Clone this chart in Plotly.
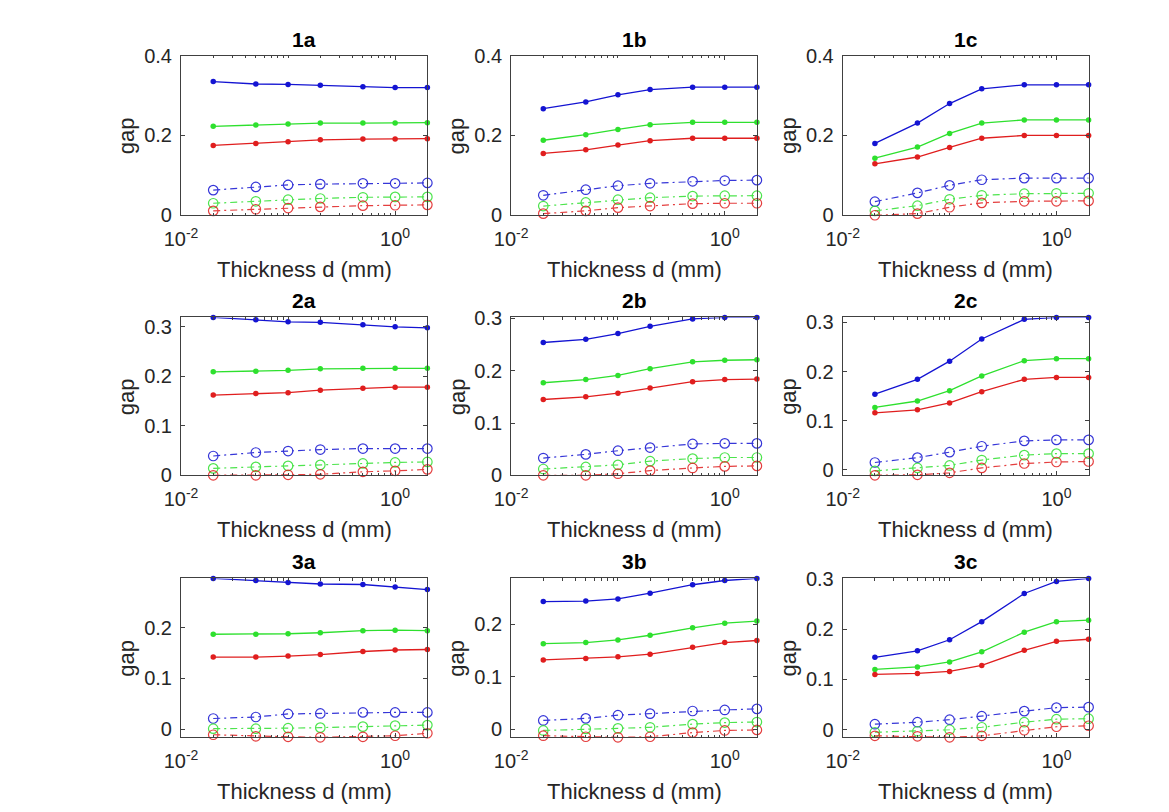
import plotly.graph_objects as go

thickness = [0.02, 0.05, 0.1, 0.2, 0.5, 1.0, 2.0]
panels = ["1a", "1b", "1c", "2a", "2b", "2c", "3a", "3b", "3c"]

blue_solid = {
    "1a": [0.335, 0.329, 0.328, 0.326, 0.322, 0.320, 0.320],
    "1b": [0.267, 0.284, 0.302, 0.315, 0.321, 0.321, 0.321],
    "1c": [0.180, 0.231, 0.280, 0.317, 0.327, 0.327, 0.327],
    "2a": [0.319, 0.314, 0.310, 0.309, 0.304, 0.300, 0.298],
    "2b": [0.254, 0.260, 0.271, 0.285, 0.299, 0.302, 0.302],
    "2c": [0.154, 0.184, 0.221, 0.266, 0.306, 0.310, 0.310],
    "3a": [0.297, 0.293, 0.289, 0.286, 0.285, 0.280, 0.275],
    "3b": [0.243, 0.244, 0.248, 0.259, 0.275, 0.283, 0.287],
    "3c": [0.144, 0.157, 0.179, 0.215, 0.271, 0.295, 0.301],
}
green_solid = {
    "1a": [0.223, 0.226, 0.229, 0.231, 0.231, 0.231, 0.232],
    "1b": [0.188, 0.202, 0.215, 0.227, 0.233, 0.233, 0.233],
    "1c": [0.143, 0.171, 0.205, 0.231, 0.239, 0.239, 0.239],
    "2a": [0.209, 0.210, 0.212, 0.215, 0.216, 0.216, 0.216],
    "2b": [0.177, 0.183, 0.191, 0.204, 0.217, 0.220, 0.221],
    "2c": [0.127, 0.140, 0.161, 0.191, 0.222, 0.226, 0.226],
    "3a": [0.187, 0.187, 0.188, 0.190, 0.194, 0.195, 0.194],
    "3b": [0.163, 0.165, 0.170, 0.179, 0.193, 0.202, 0.206],
    "3c": [0.120, 0.125, 0.135, 0.155, 0.194, 0.215, 0.218],
}
red_solid = {
    "1a": [0.175, 0.180, 0.184, 0.189, 0.191, 0.191, 0.192],
    "1b": [0.155, 0.164, 0.176, 0.187, 0.193, 0.193, 0.193],
    "1c": [0.129, 0.146, 0.170, 0.193, 0.200, 0.200, 0.200],
    "2a": [0.162, 0.165, 0.167, 0.172, 0.176, 0.178, 0.178],
    "2b": [0.145, 0.150, 0.157, 0.167, 0.179, 0.183, 0.184],
    "2c": [0.116, 0.122, 0.136, 0.159, 0.184, 0.188, 0.188],
    "3a": [0.142, 0.142, 0.144, 0.147, 0.153, 0.156, 0.157],
    "3b": [0.132, 0.135, 0.138, 0.143, 0.156, 0.165, 0.169],
    "3c": [0.110, 0.112, 0.116, 0.128, 0.158, 0.176, 0.180],
}
blue_dashed = {
    "1a": [0.063, 0.071, 0.076, 0.078, 0.080, 0.080, 0.081],
    "1b": [0.050, 0.064, 0.074, 0.080, 0.085, 0.087, 0.088],
    "1c": [0.034, 0.056, 0.075, 0.089, 0.093, 0.093, 0.093],
    "2a": [0.039, 0.046, 0.049, 0.052, 0.054, 0.054, 0.054],
    "2b": [0.033, 0.040, 0.047, 0.053, 0.060, 0.061, 0.061],
    "2c": [0.015, 0.025, 0.036, 0.048, 0.059, 0.061, 0.061],
    "3a": [0.021, 0.024, 0.030, 0.031, 0.033, 0.033, 0.033],
    "3b": [0.017, 0.021, 0.027, 0.030, 0.035, 0.037, 0.039],
    "3c": [0.011, 0.015, 0.020, 0.027, 0.037, 0.044, 0.045],
}
green_dashed = {
    "1a": [0.030, 0.035, 0.039, 0.042, 0.045, 0.046, 0.046],
    "1b": [0.023, 0.032, 0.039, 0.044, 0.048, 0.049, 0.049],
    "1c": [0.011, 0.024, 0.040, 0.050, 0.054, 0.055, 0.055],
    "2a": [0.014, 0.017, 0.019, 0.021, 0.024, 0.026, 0.027],
    "2b": [0.012, 0.016, 0.020, 0.027, 0.032, 0.034, 0.034],
    "2c": [-0.002, 0.004, 0.009, 0.020, 0.030, 0.033, 0.033],
    "3a": [0.001, 0.001, 0.002, 0.003, 0.005, 0.007, 0.008],
    "3b": [-0.002, 0.001, 0.002, 0.004, 0.010, 0.013, 0.014],
    "3c": [-0.005, -0.003, 0.000, 0.005, 0.015, 0.021, 0.022],
}
red_dashed = {
    "1a": [0.011, 0.015, 0.018, 0.021, 0.024, 0.025, 0.026],
    "1b": [0.004, 0.011, 0.019, 0.023, 0.029, 0.030, 0.030],
    "1c": [0.000, 0.004, 0.020, 0.031, 0.035, 0.035, 0.036],
    "2a": [0.000, 0.000, 0.001, 0.002, 0.007, 0.009, 0.012],
    "2b": [0.000, 0.000, 0.003, 0.009, 0.014, 0.017, 0.018],
    "2c": [-0.011, -0.010, -0.006, 0.004, 0.013, 0.016, 0.017],
    "3a": [-0.011, -0.014, -0.015, -0.016, -0.015, -0.013, -0.008],
    "3b": [-0.012, -0.014, -0.015, -0.014, -0.006, -0.002, -0.001],
    "3c": [-0.012, -0.013, -0.015, -0.012, -0.001, 0.006, 0.008],
}

y_limits = {
    "1a": [0, 0.4], "1b": [0, 0.4], "1c": [0, 0.4],
    "2a": [0, 0.319], "2b": [0, 0.302], "2c": [-0.011, 0.310],
    "3a": [-0.016, 0.297], "3b": [-0.015, 0.287], "3c": [-0.015, 0.301],
}
y_ticks_row1 = [0, 0.2, 0.4]
y_ticks_other = [0, 0.1, 0.2, 0.3]
x_tick_vals = [0.01, 1.0]
x_tick_text = ["10<sup>-2</sup>", "10<sup>0</sup>"]
x_minor_vals = [0.02, 0.03, 0.04, 0.05, 0.06, 0.07, 0.08, 0.09, 0.1,
                0.2, 0.3, 0.4, 0.5, 0.6, 0.7, 0.8, 0.9, 2.0]
x_title = "Thickness d (mm)"
y_title = "gap"

W, H = 1169, 812
col_px = [(158.3, 408.3), (493.3, 742.7), (829.8, 1079.3)]
row_px = [(37.7, 201.7), (306.7, 469.0), (575.0, 738.3)]

BLUE = "#1414d2"
GREEN = "#2ee02e"
RED = "#e01e1e"
AX = "#404040"
TXT = "#262626"
FONT = "Liberation Sans"
TICK_SIZE = 20
LABEL_SIZE = 22
TITLE_SIZE = 21

fig = go.Figure()
layout = dict(
    width=W, height=H, margin=dict(l=0, r=0, t=0, b=0),
    paper_bgcolor="white", plot_bgcolor="white", showlegend=False,
    font=dict(family=FONT, color=TXT),
)
annotations = []

series = [
    (blue_solid, BLUE, "solid"), (green_solid, GREEN, "solid"), (red_solid, RED, "solid"),
    (blue_dashed, BLUE, "dash"), (green_dashed, GREEN, "dash"), (red_dashed, RED, "dash"),
]

for i, p in enumerate(panels):
    r, c = divmod(i, 3)
    n = i + 1
    xa = "x" if n == 1 else f"x{n}"
    ya = "y" if n == 1 else f"y{n}"
    for data, color, kind in series:
        if kind == "solid":
            fig.add_trace(go.Scatter(
                x=thickness, y=data[p], xaxis=xa, yaxis=ya, mode="lines+markers",
                line=dict(color=color, width=1.3),
                marker=dict(color=color, size=5.5, symbol="circle"),
                cliponaxis=False,
            ))
        else:
            fig.add_trace(go.Scatter(
                x=thickness, y=data[p], xaxis=xa, yaxis=ya, mode="lines+markers",
                line=dict(color=color, width=1.2, dash="7px,4px,2px,4px"),
                marker=dict(color=color, size=9.5, symbol="circle-open",
                            line=dict(width=1.2)),
                opacity=0.85,
                cliponaxis=False,
            ))
    x0, x1 = col_px[c]
    t0, t1 = row_px[r]
    ykey = "yaxis" if n == 1 else f"yaxis{n}"
    xkey = "xaxis" if n == 1 else f"xaxis{n}"
    yt = y_ticks_row1 if r == 0 else y_ticks_other
    layout[xkey] = dict(
        domain=[x0 / W, x1 / W], anchor=ya, type="log",
        range=[-2, 0.30103], tickvals=x_tick_vals, ticktext=x_tick_text,
        ticks="inside", ticklen=4, tickcolor=AX, showline=True, linecolor=AX,
        linewidth=1, mirror="ticks", showgrid=False, zeroline=False,
        tickfont=dict(size=TICK_SIZE, color=TXT, family=FONT),
        ticklabelstandoff=6,
        minor=dict(tickvals=x_minor_vals, ticks="inside", ticklen=2.5, tickcolor=AX, showgrid=False),
    )
    layout[ykey] = dict(
        domain=[1 - t1 / H, 1 - t0 / H], anchor=xa,
        range=y_limits[p], tickvals=yt,
        ticktext=[("0" if v == 0 else f"{v:g}") for v in yt],
        ticks="inside", ticklen=4, tickcolor=AX, showline=True, linecolor=AX,
        linewidth=1, mirror="ticks", showgrid=False, zeroline=False,
        tickfont=dict(size=TICK_SIZE, color=TXT, family=FONT),
        ticklabelstandoff=4,
    )
    annotations.append(dict(
        text=f"<b>{p}</b>", x=(x0 + x1) / 2 / W, y=1 - (t0 - 17) / H,
        xref="paper", yref="paper", showarrow=False,
        font=dict(size=TITLE_SIZE, color="black", family=FONT), xanchor="center", yanchor="middle",
    ))
    annotations.append(dict(
        text=x_title, x=(x0 + x1) / 2 / W, y=1 - (t1 + 56) / H,
        xref="paper", yref="paper", showarrow=False,
        font=dict(size=LABEL_SIZE, color=TXT, family=FONT), xanchor="center", yanchor="middle",
    ))
    annotations.append(dict(
        text=y_title, x=(x0 - 55) / W, y=1 - (t0 + t1) / 2 / H, textangle=-90,
        xref="paper", yref="paper", showarrow=False,
        font=dict(size=LABEL_SIZE, color=TXT, family=FONT), xanchor="center", yanchor="middle",
    ))

layout["annotations"] = annotations
fig.update_layout(**layout)
fig.write_html("out.html")
